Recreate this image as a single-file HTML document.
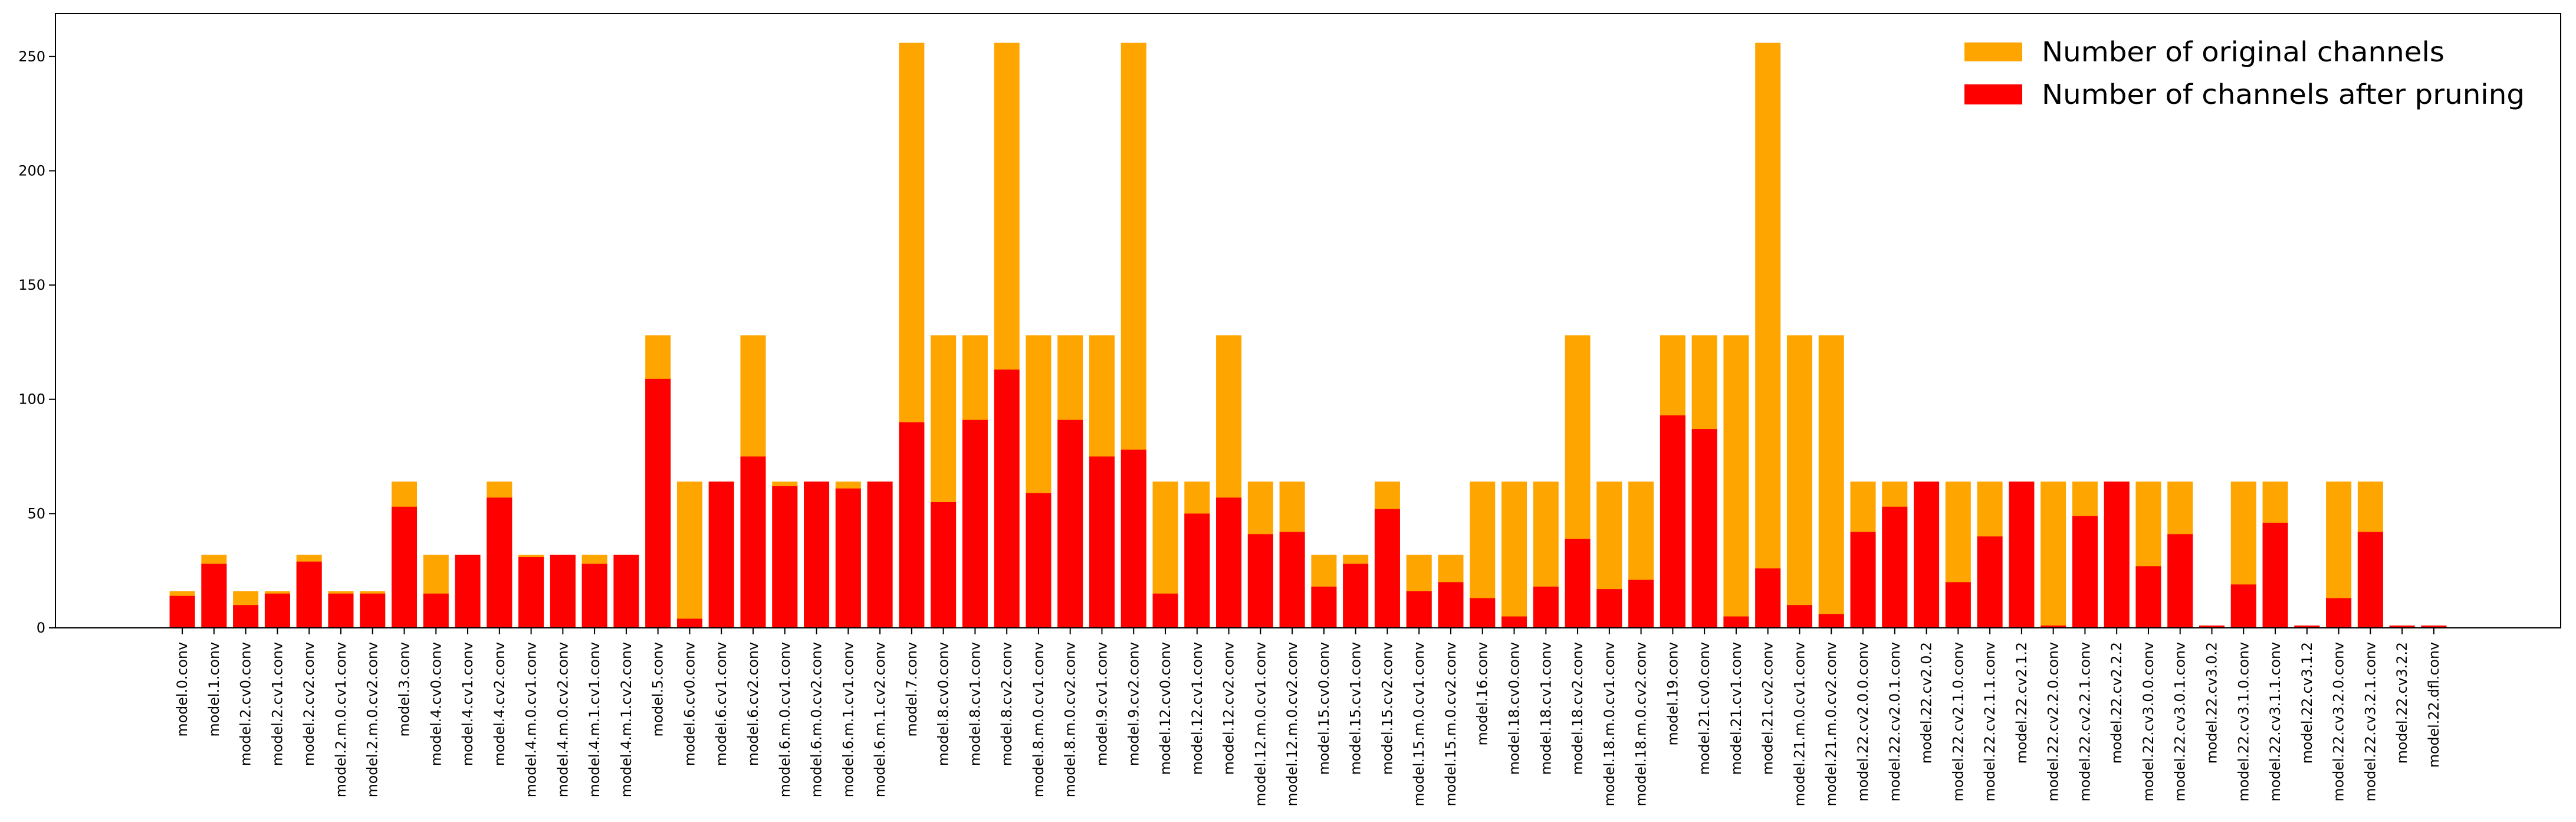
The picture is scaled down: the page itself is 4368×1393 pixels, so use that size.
<!DOCTYPE html>
<html><head><meta charset="utf-8"><style>
html,body{margin:0;padding:0;background:#fff;}
svg{display:block;font-family:"DejaVu Sans","Liberation Sans",sans-serif;}
</style></head><body>
<svg id="chart" width="4368" height="1393" viewBox="0 0 4368 1393" xmlns="http://www.w3.org/2000/svg">
<rect x="0" y="0" width="4368" height="1393" fill="#fff"/>
<g id="bars"></g>
<g id="xaxis"></g>
<g id="yaxis"></g>
<rect x="94" y="23" width="4248" height="1041" fill="none" stroke="#000" stroke-width="2"/>
<g>
<rect x="3331" y="72" width="98" height="32" fill="#ffa500"/>
<text x="3462" y="88" font-size="46" textLength="683" lengthAdjust="spacingAndGlyphs" dominant-baseline="central" fill="#000">Number of original channels</text>
<rect x="3331" y="143" width="98" height="34" fill="#ff0000"/>
<text x="3462" y="160" font-size="46" textLength="819" lengthAdjust="spacingAndGlyphs" dominant-baseline="central" fill="#000">Number of channels after pruning</text>
</g>
</svg>
<script>
const categories = ["model.0.conv","model.1.conv","model.2.cv0.conv","model.2.cv1.conv","model.2.cv2.conv","model.2.m.0.cv1.conv","model.2.m.0.cv2.conv","model.3.conv","model.4.cv0.conv","model.4.cv1.conv","model.4.cv2.conv","model.4.m.0.cv1.conv","model.4.m.0.cv2.conv","model.4.m.1.cv1.conv","model.4.m.1.cv2.conv","model.5.conv","model.6.cv0.conv","model.6.cv1.conv","model.6.cv2.conv","model.6.m.0.cv1.conv","model.6.m.0.cv2.conv","model.6.m.1.cv1.conv","model.6.m.1.cv2.conv","model.7.conv","model.8.cv0.conv","model.8.cv1.conv","model.8.cv2.conv","model.8.m.0.cv1.conv","model.8.m.0.cv2.conv","model.9.cv1.conv","model.9.cv2.conv","model.12.cv0.conv","model.12.cv1.conv","model.12.cv2.conv","model.12.m.0.cv1.conv","model.12.m.0.cv2.conv","model.15.cv0.conv","model.15.cv1.conv","model.15.cv2.conv","model.15.m.0.cv1.conv","model.15.m.0.cv2.conv","model.16.conv","model.18.cv0.conv","model.18.cv1.conv","model.18.cv2.conv","model.18.m.0.cv1.conv","model.18.m.0.cv2.conv","model.19.conv","model.21.cv0.conv","model.21.cv1.conv","model.21.cv2.conv","model.21.m.0.cv1.conv","model.21.m.0.cv2.conv","model.22.cv2.0.0.conv","model.22.cv2.0.1.conv","model.22.cv2.0.2","model.22.cv2.1.0.conv","model.22.cv2.1.1.conv","model.22.cv2.1.2","model.22.cv2.2.0.conv","model.22.cv2.2.1.conv","model.22.cv2.2.2","model.22.cv3.0.0.conv","model.22.cv3.0.1.conv","model.22.cv3.0.2","model.22.cv3.1.0.conv","model.22.cv3.1.1.conv","model.22.cv3.1.2","model.22.cv3.2.0.conv","model.22.cv3.2.1.conv","model.22.cv3.2.2","model.22.dfl.conv"];
const originalChannels = [16,32,16,16,32,16,16,64,32,32,64,32,32,32,32,128,64,64,128,64,64,64,64,256,128,128,256,128,128,128,256,64,64,128,64,64,32,32,64,32,32,64,64,64,128,64,64,128,128,128,256,128,128,64,64,64,64,64,64,64,64,64,64,64,1,64,64,1,64,64,1,1];
const prunedChannels = [14,28,10,15,29,15,15,53,15,32,57,31,32,28,32,109,4,64,75,62,64,61,64,90,55,91,113,59,91,75,78,15,50,57,41,42,18,28,52,16,20,13,5,18,39,17,21,93,87,5,26,10,6,42,53,64,20,40,64,1,49,64,27,41,1,19,46,1,13,42,1,1];
const yTicks = [0,50,100,150,200,250];

const NS = "http://www.w3.org/2000/svg";
const plotLeft = 94, plotRight = 4342, plotTop = 23, plotBottom = 1064;
const yMax = 268.8;
const xMin = -4.0, xMax = categories.length - 1 + 4.0;
function xScale(i){ return plotLeft + (i - xMin) / (xMax - xMin) * (plotRight - plotLeft); }
function yScale(v){ return plotBottom - v / yMax * (plotBottom - plotTop); }
const step = xScale(1) - xScale(0);
const bw = step * 0.8;

function mk(tag, attrs){ const e = document.createElementNS(NS, tag); for (const k in attrs) e.setAttribute(k, attrs[k]); return e; }

const barsG = document.getElementById('bars');
const xG = document.getElementById('xaxis');
const yG = document.getElementById('yaxis');

categories.forEach((c, i) => {
  const cx = xScale(i);
  const o = mk('rect', {x: cx - bw/2, y: yScale(originalChannels[i]), width: bw, height: plotBottom - yScale(originalChannels[i]), fill: '#ffa500'});
  
  
  barsG.appendChild(o);
  const p = mk('rect', {x: cx - bw/2, y: yScale(prunedChannels[i]), width: bw, height: plotBottom - yScale(prunedChannels[i]), fill: '#ff0000'});
  
  
  barsG.appendChild(p);
  const t = mk('line', {x1: cx, x2: cx, y1: plotBottom, y2: plotBottom + 11, stroke: '#000', 'stroke-width': 2});
  
  
  xG.appendChild(t);
  const lab = mk('text', {x: 0, y: 0, 'font-size': 23.7, 'text-anchor': 'end', 'dominant-baseline': 'central', fill: '#000', transform: 'translate(' + cx + ',1088) rotate(-90)'});
  lab.textContent = c;
  
  
  xG.appendChild(lab);
});

yTicks.forEach(v => {
  const y = yScale(v);
  const t = mk('line', {x1: plotLeft - 11, x2: plotLeft, y1: y, y2: y, stroke: '#000', 'stroke-width': 2});
  
  
  yG.appendChild(t);
  const lab = mk('text', {x: plotLeft - 17, y: y, 'font-size': 24, 'text-anchor': 'end', 'dominant-baseline': 'central', fill: '#000'});
  lab.textContent = String(v);
  
  
  yG.appendChild(lab);
});
</script>
</body></html>
